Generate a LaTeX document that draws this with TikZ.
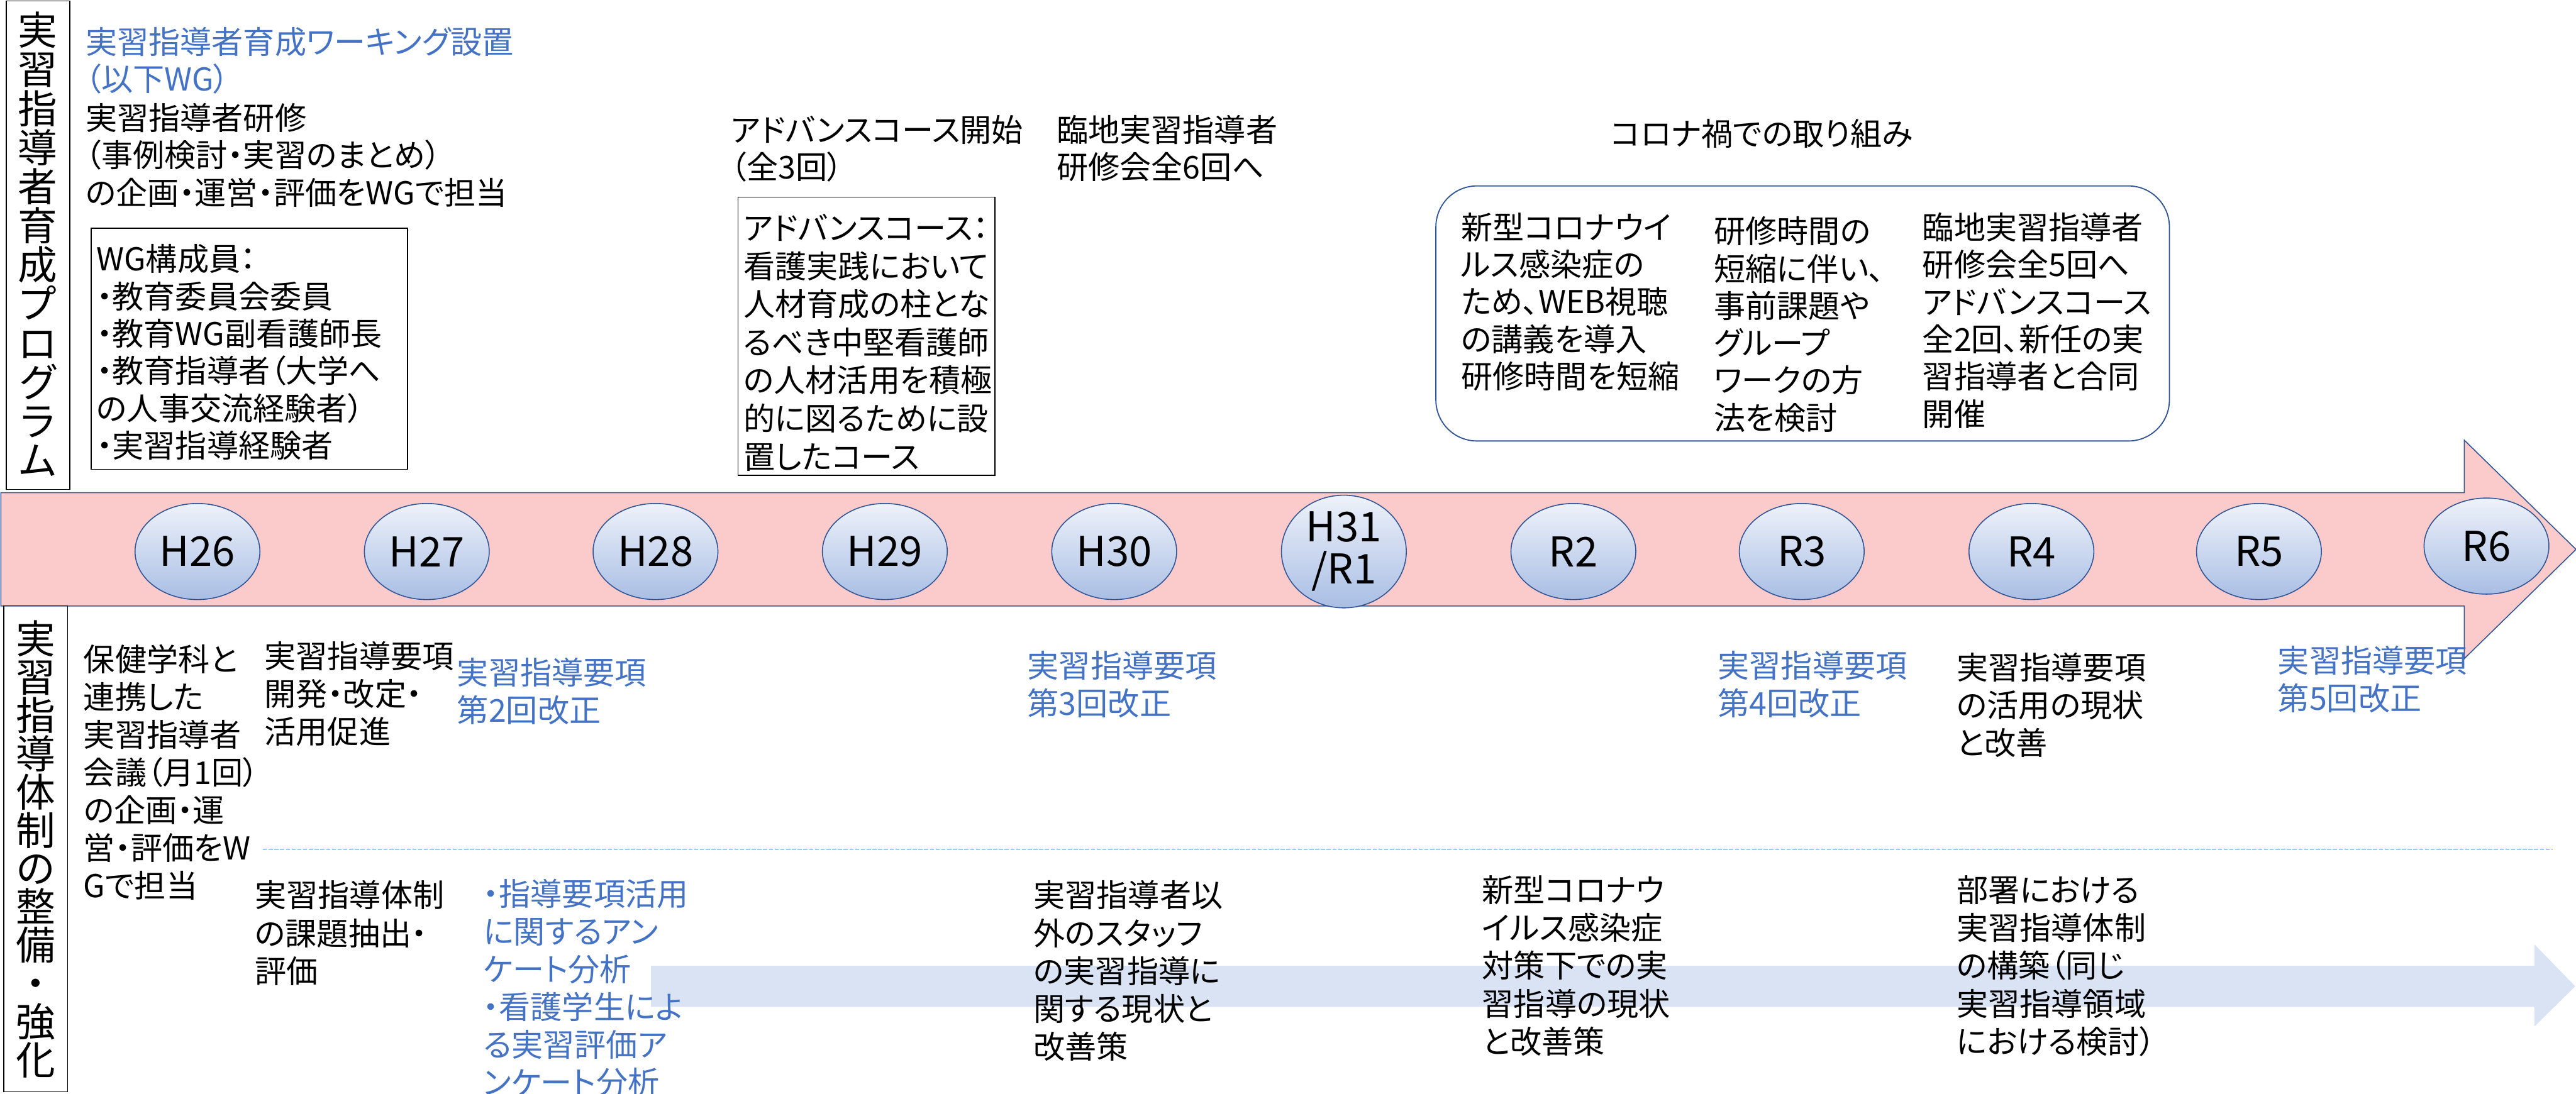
\documentclass[tikz,border=0pt]{standalone}
\usepackage{fontspec}
\setmainfont{Noto Sans CJK JP}[RawFeature={+palt}]
\usetikzlibrary{shapes.geometric,shadings}
\definecolor{ublue}{HTML}{4472C4}
\definecolor{dblue}{HTML}{2F5597}
\definecolor{pinkf}{HTML}{FBCACA}
\definecolor{lblue}{HTML}{DAE3F3}
\definecolor{etop}{HTML}{EEF2FA}
\definecolor{ebot}{HTML}{A9BEE4}
\newcommand\mybody{\fontsize{19.2}{22.7}\selectfont}
\newcommand\mybodyb{\fontsize{19.2}{23}\selectfont}
\newcommand\myvert{\fontsize{24}{23.8}\selectfont}
\newcommand\myvertb{\fontsize{24}{23.3}\selectfont}
\newcommand\myyear{\fontsize{25}{25.7}\selectfont}
\begin{document}
\begin{tikzpicture}[x=1pt,y=-1pt,
  txt/.style={anchor=north west,inner sep=0pt,align=left,font=\mybody},
  btxt/.style={txt,text=ublue},
  ltxt/.style={txt,font=\mybodyb},
  lbtxt/.style={btxt,font=\mybodyb},
  year/.style={ellipse,draw=dblue,line width=0.6pt,top color=etop,bottom color=ebot,
    minimum width=76pt,minimum height=58.5pt,inner sep=0pt,font=\myyear,align=center},
  framebox/.style={draw=black,line width=0.6pt},
  vlabel/.style={inner sep=0pt,align=center}]
\useasboundingbox (0,0) rectangle (1568,666);

% main timeline arrow
\fill[pinkf] (0.5,300) -- (1500,300) -- (1500,268) -- (1568,334.5) -- (1500,401) -- (1500,369) -- (0.5,369) -- cycle;
\draw[dblue,line width=0.6pt] (0.5,300) -- (1500,300) -- (1500,268) -- (1568,334.5) -- (1500,401) -- (1500,369) -- (0.5,369) -- cycle;

% year ellipses
\node[year] (y26) at (120.2,335.8) {H26};
\node[year] (y27) at (259.8,335.8) {H27};
\node[year] (y28) at (399,335.8) {H28};
\node[year] (y29) at (538.6,335.8) {H29};
\node[year] (y30) at (678.2,335.8) {H30};
\node[year] (y31) at (818,335.8) {H31\\/R1};
\node[year] (r2) at (957.7,335.8) {R2};
\node[year] (r3) at (1096.7,335.8) {R3};
\node[year] (r4) at (1236.5,335.8) {R4};
\node[year] (r5) at (1375,335.8) {R5};
\node[year] (r6) at (1513.5,332.5) {R6};

% side labels
\draw[framebox] (3.8,0.5) rectangle (42.5,298);
\node[vlabel,font=\myvert] (toplab) at (23,148.7) {実\\習\\指\\導\\者\\育\\成\\プ\\ロ\\グ\\ラ\\ム};
\draw[framebox] (2.3,368.8) rectangle (41.1,664.8);
\node[vlabel,font=\myvertb] (botlab) at (21.7,517) {実\\習\\指\\導\\体\\制\\の\\整\\備\\・\\強\\化};

% upper section
\node[btxt] (wgset) at (51.9,16.4) {実習指導者育成ワーキング設置\\（以下WG）};
\node[txt] (train) at (51.9,62.7) {実習指導者研修\\（事例検討・実習のまとめ）\\の企画・運営・評価をWGで担当};
\draw[framebox] (55.5,139) rectangle (248,285.7);
\node[txt] (wgmem) at (58.6,148.6) {WG構成員：\\・教育委員会委員\\・教育WG副看護師長\\・教育指導者（大学へ\\の人事交流経験者）\\・実習指導経験者};

\node[txt] (advstart) at (444.7,69.8) {アドバンスコース開始\\（全3回）};
\node[txt] (rin6) at (643,69.8) {臨地実習指導者\\研修会全6回へ};
\draw[framebox] (449.3,120) rectangle (605.6,289.4);
\node[txt,font=\fontsize{19.2}{23.2}\selectfont] (advdesc) at (452.4,130.1) {アドバンスコース：\\看護実践において\\人材育成の柱とな\\るべき中堅看護師\\の人材活用を積極\\的に図るために設\\置したコース};

\node[txt] (corona) at (980.2,72.2) {コロナ禍での取り組み};
\draw[dblue,line width=0.7pt,rounded corners=25pt] (874,113.2) rectangle (1320.5,268.5);
\node[txt] (c1) at (889.2,129.3) {新型コロナウイ\\ルス感染症の\\ため、WEB視聴\\の講義を導入\\研修時間を短縮};
\node[txt] (c2) at (1043,131.7) {研修時間の\\短縮に伴い、\\事前課題や\\グループ\\ワークの方\\法を検討};
\node[txt] (c3) at (1170,129.3) {臨地実習指導者\\研修会全5回へ\\アドバンスコース\\全2回、新任の実\\習指導者と合同\\開催};

% lower section
\fill[lblue] (396.3,588) -- (1542.7,588) -- (1542.7,575) -- (1567.5,600.5) -- (1542.7,625) -- (1542.7,613) -- (396.3,613) -- cycle;
\coordinate (dl) at (160,517);
\coordinate (dr) at (1554,517);
\draw[ublue,line width=0.4pt,dash pattern=on 2.5pt off 1pt] (dl) -- (dr);

\node[ltxt] (hoken) at (50.7,392.2) {保健学科と\\連携した\\実習指導者\\会議（月1回）\\の企画・運\\営・評価をW\\Gで担当};
\node[ltxt] (yoko1) at (160.8,390.2) {実習指導要項\\開発・改定・\\活用促進};
\node[lbtxt] (kai2) at (278.1,400.2) {実習指導要項\\第2回改正};
\node[lbtxt] (kai3) at (625.2,396.2) {実習指導要項\\第3回改正};
\node[lbtxt] (kai4) at (1045.5,396.2) {実習指導要項\\第4回改正};
\node[ltxt] (katsuyo) at (1190.8,397.2) {実習指導要項\\の活用の現状\\と改善};
\node[lbtxt] (kai5) at (1386.3,393.2) {実習指導要項\\第5回改正};

\node[ltxt] (kadai) at (155,536) {実習指導体制\\の課題抽出・\\評価};
\node[lbtxt] (anke) at (294,535) {・指導要項活用\\に関するアン\\ケート分析\\・看護学生によ\\る実習評価ア\\ンケート分析};
\node[ltxt] (staff) at (628.9,536) {実習指導者以\\外のスタッフ\\の実習指導に\\関する現状と\\改善策};
\node[ltxt] (covid) at (902,533) {新型コロナウ\\イルス感染症\\対策下での実\\習指導の現状\\と改善策};
\node[ltxt] (busho) at (1190.8,533) {部署における\\実習指導体制\\の構築（同じ\\実習指導領域\\における検討）};
\end{tikzpicture}
\end{document}
